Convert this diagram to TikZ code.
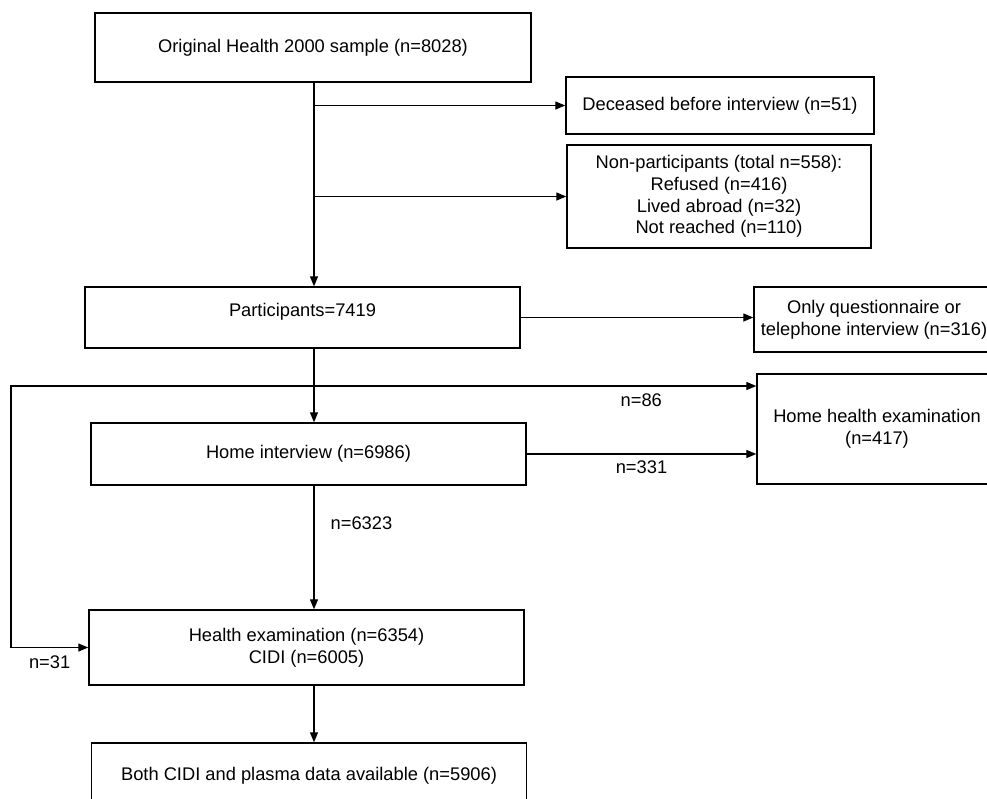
\documentclass[tikz,border=0pt]{standalone}
\usepackage{fontspec}
\setmainfont{Liberation Sans}
\usetikzlibrary{arrows.meta, positioning, calc}

\begin{document}
\begin{tikzpicture}[
    x=1pt, y=-1pt,
    every node/.style={font=\fontsize{18.3}{21.7}\selectfont},
    flowbox/.style={draw, line width=1.4pt, inner sep=0pt, align=center},
    arr/.style={line width=1.3pt, -{Triangle[length=10pt, width=8pt]}},
    cnt/.style={inner sep=2pt},
]
\useasboundingbox (0,0) rectangle (987,798);

\coordinate (trunk) at (314, 0);
\coordinate (split) at (314, 386);
\coordinate (loop)  at (11, 386);

% main column
\node[flowbox, minimum width=436pt, minimum height=69pt] (orig) at (313, 47.5)
    {Original Health 2000 sample (n=8028)};
\node[flowbox, minimum width=435pt, minimum height=61pt,
      text height=12pt, text depth=15pt] (part) at (302.5, 317.5)
    {Participants=7419};
\node[flowbox, minimum width=435pt, minimum height=62pt] (home) at (308.5, 454)
    {Home interview (n=6986)};
\node[flowbox, minimum width=435pt, minimum height=75pt] (health) at (306.5, 647.5)
    {Health examination (n=6354)\\ CIDI (n=6005)};
\node[flowbox, minimum width=435pt, minimum height=65pt] (both) at (309, 775.5)
    {Both CIDI and plasma data available (n=5906)};

% side boxes
\node[flowbox, minimum width=308pt, minimum height=57pt] (dec) at (720, 105.5)
    {Deceased before interview (n=51)};
\node[flowbox, minimum width=304pt, minimum height=103pt] (nonp) at (719, 196.5)
    {Non-participants (total n=558):\\ Refused (n=416)\\ Lived abroad (n=32)\\ Not reached (n=110)};
\node[flowbox, minimum width=240pt, minimum height=65pt] (only) at (874, 319.5)
    {Only questionnaire or\\ telephone interview (n=316)};
\node[flowbox, minimum width=240pt, minimum height=110pt] (homeh) at (877, 429)
    {Home health examination\\ (n=417)};

% connectors
\draw[arr] (orig.south -| trunk) -- (part.north -| trunk);
\draw[arr] (trunk |- dec.west) -- (dec.west);
\draw[arr] (trunk |- nonp.west) -- (nonp.west);
\draw[arr] (part.east) -- (part.east -| only.west);
\draw[arr] (part.south -| trunk) -- (home.north -| trunk);
\draw[arr] (split) -- (split -| homeh.west) node[cnt, below=5pt, pos=0.74] {n=86};
\draw[arr] (split) -- (loop) |- (health.west) node[cnt, below=6pt, pos=0.75] {n=31};
\draw[arr] (home.east) -- (home.east -| homeh.west) node[cnt, below=4pt, midway] {n=331};
\draw[arr] (home.south -| trunk) -- (health.north -| trunk)
    node[cnt, right=14pt, pos=0.3] {n=6323};
\draw[arr] (health.south -| trunk) -- (both.north -| trunk);
\end{tikzpicture}
\end{document}
